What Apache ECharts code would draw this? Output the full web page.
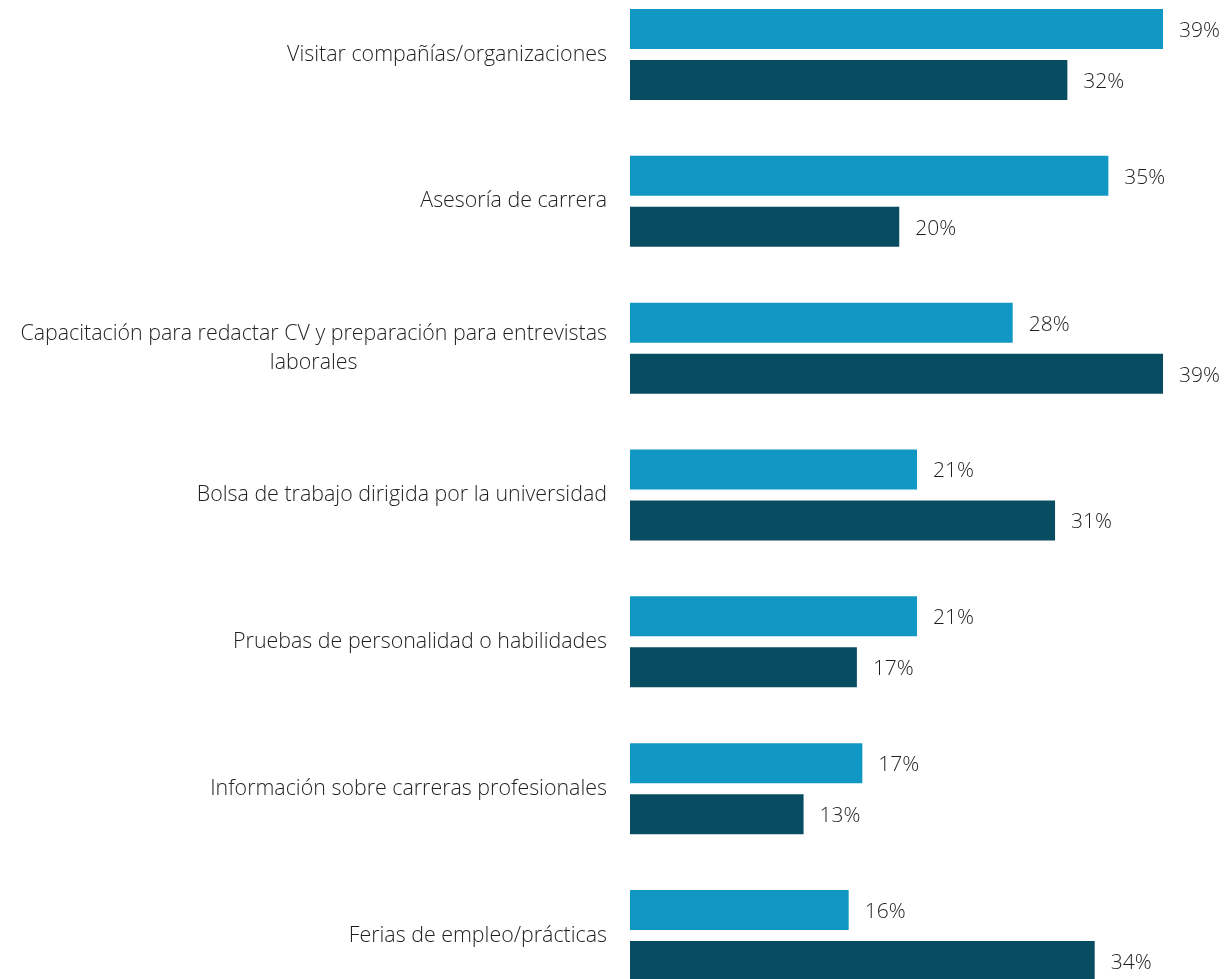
<!DOCTYPE html>
<html>
<head>
<meta charset="utf-8">
<script src="https://cdn.jsdelivr.net/npm/echarts@6/dist/echarts.min.js"></script>
<style>
html,body{margin:0;padding:0;background:#fff;}
#chart{width:1225px;height:979px;}
</style>
</head>
<body>
<div id="chart"></div>
<script>
var categories = [
  "Visitar compañías/organizaciones",
  "Asesoría de carrera",
  "Capacitación para redactar CV y preparación para entrevistas\nlaborales",
  "Bolsa de trabajo dirigida por la universidad",
  "Pruebas de personalidad o habilidades",
  "Información sobre carreras profesionales",
  "Ferias de empleo/prácticas"
];
var seriesLight = [39.0, 35.0, 28.0, 21.0, 21.0, 17.0, 16.0];
var seriesDark  = [32.0, 19.7, 39.0, 31.1, 16.6, 12.7, 34.0];

var chart = echarts.init(document.getElementById('chart'), null, {renderer: 'canvas'});
var fontFamily = '"Open Sans", sans-serif';
var textColor = '#1f1f1f';

function labelFmt(p) { return Math.round(p.value) + '%'; }

chart.setOption({
  animation: false,
  backgroundColor: '#ffffff',
  grid: {
    left: 630, right: 48.3, top: -19, bottom: -30,
    containLabel: false,
    outerBoundsMode: 'none'
  },
  xAxis: {
    type: 'value', min: 0, max: 40,
    show: false
  },
  yAxis: {
    type: 'category',
    data: categories,
    inverse: true,
    axisLine: {show: false},
    axisTick: {show: false},
    splitLine: {show: false},
    axisLabel: {
      margin: 23,
      formatter: function (v) {
        return v.split('\n').map(function (l) { return '{c|' + l + '}'; }).join('\n');
      },
      rich: {
        c: {
          align: 'center',
          fontFamily: fontFamily, fontWeight: 300, fontSize: 21.4,
          color: textColor, lineHeight: 29
        }
      }
    }
  },
  series: [
    {
      name: 'A', type: 'bar', data: seriesLight,
      barWidth: 40, barGap: '27.5%',
      itemStyle: {color: '#1097C3'},
      label: {
        show: true, position: 'right', distance: 16, offset: [0, 2],
        formatter: labelFmt,
        fontFamily: fontFamily, fontWeight: 300, fontSize: 21, color: textColor
      }
    },
    {
      name: 'B', type: 'bar', data: seriesDark,
      barWidth: 40, barGap: '27.5%',
      itemStyle: {color: '#074C61'},
      label: {
        show: true, position: 'right', distance: 16, offset: [0, 2],
        formatter: labelFmt,
        fontFamily: fontFamily, fontWeight: 300, fontSize: 21, color: textColor
      }
    }
  ]
});
</script>
</body>
</html>
